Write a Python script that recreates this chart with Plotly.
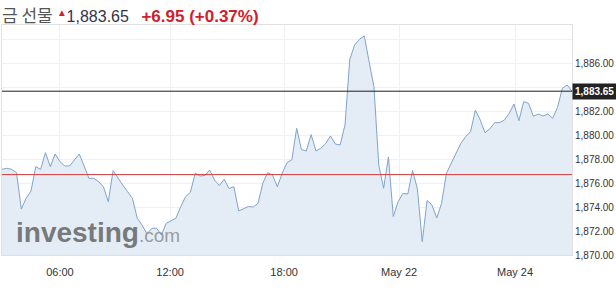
import plotly.graph_objects as go

title_name = "금 선물"
last_price = 1883.65
change = 6.95
change_pct = 0.37

prices = [
    1877.14, 1877.23, 1877.14, 1876.86, 1873.83, 1874.73, 1875.33, 1877.36, 1877.14, 1878.53,
    1877.36, 1878.42, 1877.78, 1877.42, 1877.42, 1877.92, 1878.42, 1877.42, 1876.39, 1876.39,
    1876.11, 1875.69, 1874.44, 1877.03, 1876.39, 1875.83, 1875.28, 1874.73, 1873.06, 1872.50,
    1871.75, 1872.23, 1872.23, 1871.67, 1872.64, 1872.83, 1873.06, 1874.03, 1874.86, 1875.23,
    1876.81, 1876.58, 1876.63, 1877.08, 1876.25, 1875.79, 1876.31, 1875.54, 1875.69, 1873.67,
    1873.89, 1874.04, 1874.00, 1874.31, 1876.00, 1876.86, 1876.67, 1875.69, 1876.81, 1877.69,
    1877.94, 1880.56, 1878.78, 1878.67, 1880.03, 1878.67, 1878.89, 1879.28, 1879.92, 1879.25,
    1879.17, 1880.83, 1886.31, 1887.50, 1887.98, 1888.25, 1886.11, 1884.03, 1877.50, 1875.56,
    1878.17, 1873.21, 1874.44, 1875.14, 1875.08, 1877.04, 1875.50, 1871.11, 1874.54, 1874.17,
    1873.08, 1874.31, 1876.81, 1877.69, 1878.53, 1879.31, 1879.86, 1880.28, 1882.08, 1881.25,
    1880.19, 1880.52, 1881.03, 1881.03, 1881.25, 1881.81, 1882.58, 1881.19, 1882.78, 1882.64,
    1881.56, 1881.75, 1881.58, 1881.75, 1881.39, 1882.29, 1883.89, 1884.17, 1883.65,
]
x_idx = list(range(len(prices)))

x_tick_pos = [12.0, 34.8, 58.4, 82.2, 106.2]
x_tick_text = ["06:00", "12:00", "18:00", "May 22", "May 24"]

y_tick_vals = [1870, 1872, 1874, 1876, 1878, 1880, 1882, 1886]
y_tick_text = ["1,870.00", "1,872.00", "1,874.00", "1,876.00", "1,878.00",
               "1,880.00", "1,882.00", "1,886.00"]
y_grid_extra = [1884, 1888]

prev_close = last_price - change

fig = go.Figure()
fig.add_trace(go.Scatter(
    x=x_idx, y=prices, mode="lines", fill="tozeroy",
    line=dict(color="rgb(128,164,202)", width=1),
    fillcolor="rgb(228,236,245)", hoverinfo="skip",
))

fig.add_shape(type="line", xref="paper", x0=0, x1=1, yref="y",
              y0=prev_close, y1=prev_close, line=dict(color="rgb(205,60,60)", width=1))
fig.add_shape(type="line", xref="paper", x0=0, x1=1, yref="y",
              y0=last_price, y1=last_price, line=dict(color="rgb(30,30,30)", width=1))

fig.add_annotation(xref="paper", x=1.0, y=last_price, yref="y", xanchor="left",
                   yanchor="middle", showarrow=False,
                   text=f"<b>{last_price:,.2f}</b>", bgcolor="rgb(34,34,34)",
                   font=dict(family="Arial", size=10, color="white"),
                   borderpad=2)

# header
nb = "&nbsp;"
fig.add_annotation(xref="paper", yref="paper", x=0, y=1, xshift=-2, yshift=25,
                   xanchor="left", yanchor="top", showarrow=False,
                   text=(f"<span style='font-family:Noto Sans CJK KR;color:#555;font-size:17px'>{title_name}</span>{nb}"
                         f"<span style='color:#d0202a;font-size:14px'><sup>▲</sup></span>"
                         f"<span style='color:#33334a;font-size:16px'>{last_price:,.2f}</span>{nb}{nb}{nb}"
                         f"<b><span style='color:#d0202a;font-size:17px'>+{change:.2f} (+{change_pct:.2f}%)</span></b>"),
                   font=dict(family="Arial", size=15, color="#444"))

# watermark
fig.add_annotation(xref="paper", yref="paper", x=0, y=0, xshift=12, yshift=5,
                   xanchor="left", yanchor="bottom", showarrow=False,
                   text=("<b>investing</b>"
                         "<span style='font-size:19px;color:rgba(130,130,130,0.85)'>.com</span>"),
                   font=dict(family="Arial", size=28, color="rgba(105,105,105,0.9)"))

fig.update_layout(
    width=616, height=290,
    margin=dict(l=2, r=44, t=25, b=35),
    paper_bgcolor="white", plot_bgcolor="white",
    showlegend=False,
    font=dict(family="Arial", size=11, color="#333"),
)
fig.update_xaxes(
    range=[0, len(prices) - 1], tickvals=x_tick_pos, ticktext=x_tick_text,
    showgrid=True, gridcolor="rgb(238,240,244)", gridwidth=1,
    showline=True, linecolor="rgb(225,225,225)", mirror=True,
    ticks="outside", ticklen=7, tickcolor="rgba(0,0,0,0)",
    zeroline=False, tickfont=dict(size=11, color="#333"), automargin=False,
)
fig.update_yaxes(
    range=[1870, 1870 + 230 / 12], side="right",
    tickvals=y_tick_vals, ticktext=y_tick_text,
    showgrid=True, gridcolor="rgb(238,240,244)", gridwidth=1,
    minor=dict(tickvals=y_grid_extra, showgrid=True, gridcolor="rgb(238,240,244)", ticks=""),
    showline=True, linecolor="rgb(225,225,225)", mirror=True,
    ticks="", ticklabelstandoff=0,
    zeroline=False, tickfont=dict(size=10, color="#333"), automargin=False,
)

fig.write_html("out.html")
